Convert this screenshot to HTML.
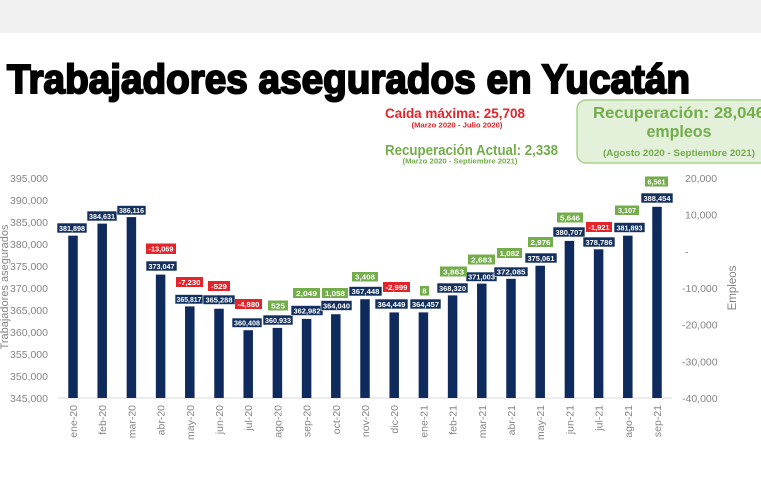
<!DOCTYPE html>
<html>
<head>
<meta charset="utf-8">
<style>
html,body{margin:0;padding:0;background:#fff;}
svg{display:block;}
text{font-family:"Liberation Sans",sans-serif;}
.ax{font-size:10.5px;fill:#858585;}
.bx{font-size:7.5px;font-weight:bold;fill:#fff;text-anchor:middle;}
</style>
</head>
<body>
<svg width="761" height="491" viewBox="0 0 761 491" xmlns="http://www.w3.org/2000/svg">
<rect x="0" y="0" width="761" height="491" fill="#fff"/>
<rect x="0" y="0" width="761" height="33" fill="#f0f0f0"/>

<!-- Title -->
<text x="7" y="93" font-size="41" font-weight="bold" fill="#000" stroke="#000" stroke-width="2" textLength="683" lengthAdjust="spacingAndGlyphs">Trabajadores asegurados en Yucatán</text>

<!-- annotations -->
<text x="385" y="118" font-size="14" font-weight="bold" fill="#e3242b" textLength="140" lengthAdjust="spacingAndGlyphs">Caída máxima:  25,708</text>
<text x="457" y="127.5" font-size="7" font-weight="bold" fill="#e3242b" text-anchor="middle" textLength="91" lengthAdjust="spacingAndGlyphs">(Marzo 2020 - Julio 2020)</text>
<text x="385" y="155" font-size="15" font-weight="bold" fill="#74ad4c" textLength="173" lengthAdjust="spacingAndGlyphs">Recuperación Actual: 2,338</text>
<text x="460" y="163.5" font-size="7" font-weight="bold" fill="#74ad4c" text-anchor="middle" textLength="115" lengthAdjust="spacingAndGlyphs">(Marzo 2020 - Septiembre 2021)</text>

<rect x="577" y="100" width="210" height="63" rx="9" fill="#e3f0da" stroke="#a9d18e" stroke-width="1.5"/>
<text x="593" y="118" font-size="16" font-weight="bold" fill="#74ad4c" textLength="172" lengthAdjust="spacingAndGlyphs">Recuperación: 28,046</text>
<text x="679" y="137" font-size="17" font-weight="bold" fill="#74ad4c" text-anchor="middle" textLength="65" lengthAdjust="spacingAndGlyphs">empleos</text>
<text x="679" y="156" font-size="9" font-weight="bold" fill="#74ad4c" text-anchor="middle" textLength="152" lengthAdjust="spacingAndGlyphs">(Agosto 2020 - Septiembre 2021)</text>

<!-- left axis labels -->
<g class="ax" text-anchor="end">
<text x="48" y="182">395,000</text>
<text x="48" y="204">390,000</text>
<text x="48" y="226">385,000</text>
<text x="48" y="248">380,000</text>
<text x="48" y="270">375,000</text>
<text x="48" y="292">370,000</text>
<text x="48" y="314">365,000</text>
<text x="48" y="336">360,000</text>
<text x="48" y="358">355,000</text>
<text x="48" y="380">350,000</text>
<text x="48" y="402">345,000</text>
</g>
<!-- right axis labels -->
<g class="ax">
<text x="685" y="182">20,000</text>
<text x="685" y="218.7">10,000</text>
<text x="685" y="255.3">-</text>
<text x="682" y="292">-10,000</text>
<text x="682" y="328.7">-20,000</text>
<text x="682" y="365.3">-30,000</text>
<text x="682" y="402">-40,000</text>
</g>
<text transform="translate(8,287) rotate(-90)" font-size="11" fill="#858585" text-anchor="middle">Trabajadores asegurados</text>
<text transform="translate(736,288) rotate(-90)" font-size="11.5" fill="#858585" text-anchor="middle">Empleos</text>

<!-- axis line -->
<line x1="58" y1="398" x2="672" y2="398" stroke="#d9d9d9" stroke-width="1"/>

<!-- bars -->
<g fill="#0f2a5d">
<rect x="68.25" y="235.65" width="9.5" height="162.35"/>
<rect x="97.45" y="223.62" width="9.5" height="174.38"/>
<rect x="126.65" y="217.09" width="9.5" height="180.91"/>
<rect x="155.85" y="274.59" width="9.5" height="123.41"/>
<rect x="185.05" y="306.41" width="9.5" height="91.59"/>
<rect x="214.25" y="308.73" width="9.5" height="89.27"/>
<rect x="243.45" y="330.2" width="9.5" height="67.8"/>
<rect x="272.65" y="327.89" width="9.5" height="70.11"/>
<rect x="301.85" y="318.88" width="9.5" height="79.12"/>
<rect x="331.05" y="314.22" width="9.5" height="83.78"/>
<rect x="360.25" y="299.23" width="9.5" height="98.77"/>
<rect x="389.45" y="312.42" width="9.5" height="85.58"/>
<rect x="418.65" y="312.39" width="9.5" height="85.61"/>
<rect x="447.85" y="295.39" width="9.5" height="102.61"/>
<rect x="477.05" y="283.59" width="9.5" height="114.41"/>
<rect x="506.25" y="278.83" width="9.5" height="119.17"/>
<rect x="535.45" y="265.73" width="9.5" height="132.27"/>
<rect x="564.65" y="240.89" width="9.5" height="157.11"/>
<rect x="593.85" y="249.34" width="9.5" height="148.66"/>
<rect x="623.05" y="235.67" width="9.5" height="162.33"/>
<rect x="652.25" y="206.8" width="9.5" height="191.2"/>
</g>

<!-- navy value boxes -->
<g>
<g fill="#13305f" stroke="#ffffff" stroke-width="0.6">
<rect x="57" y="223" width="30" height="10"/>
<rect x="87" y="211" width="30" height="10"/>
<rect x="117" y="205.5" width="29" height="9.5"/>
<rect x="146" y="261" width="31" height="10"/>
<rect x="175" y="294.5" width="28" height="9.5"/>
<rect x="203" y="295" width="32" height="9.5"/>
<rect x="232" y="318" width="30" height="9.5"/>
<rect x="263" y="315" width="30" height="10"/>
<rect x="291" y="305.5" width="32" height="10"/>
<rect x="321" y="300.5" width="31" height="10"/>
<rect x="349" y="286.5" width="33" height="9.5"/>
<rect x="375" y="299" width="33" height="10"/>
<rect x="410" y="299" width="31" height="10"/>
<rect x="437" y="283" width="31" height="10"/>
<rect x="466" y="272" width="31" height="9.5"/>
<rect x="494" y="267" width="34" height="9.5"/>
<rect x="525" y="253" width="32" height="10"/>
<rect x="553" y="227" width="32" height="10"/>
<rect x="583" y="237" width="32" height="10"/>
<rect x="614" y="222.5" width="31" height="10"/>
<rect x="641" y="193" width="32" height="10"/>
</g>
<g class="bx">
<text x="72" y="230.8" textLength="26" lengthAdjust="spacingAndGlyphs">381,898</text>
<text x="102" y="218.8" textLength="26" lengthAdjust="spacingAndGlyphs">384,631</text>
<text x="131.5" y="213" textLength="25" lengthAdjust="spacingAndGlyphs">386,116</text>
<text x="161.5" y="268.8" textLength="26" lengthAdjust="spacingAndGlyphs">373,047</text>
<text x="189" y="302" textLength="25" lengthAdjust="spacingAndGlyphs">365,817</text>
<text x="219" y="302.5" textLength="27" lengthAdjust="spacingAndGlyphs">365,288</text>
<text x="247" y="325.5" textLength="26" lengthAdjust="spacingAndGlyphs">360,408</text>
<text x="278" y="322.8" textLength="26" lengthAdjust="spacingAndGlyphs">360,933</text>
<text x="307" y="313.3" textLength="27" lengthAdjust="spacingAndGlyphs">362,982</text>
<text x="336.5" y="308.3" textLength="27" lengthAdjust="spacingAndGlyphs">364,040</text>
<text x="365.5" y="294" textLength="28" lengthAdjust="spacingAndGlyphs">367,448</text>
<text x="391.5" y="306.8" textLength="28" lengthAdjust="spacingAndGlyphs">364,449</text>
<text x="425.5" y="306.8" textLength="27" lengthAdjust="spacingAndGlyphs">364,457</text>
<text x="452.5" y="290.8" textLength="27" lengthAdjust="spacingAndGlyphs">368,320</text>
<text x="481.5" y="279.5" textLength="27" lengthAdjust="spacingAndGlyphs">371,003</text>
<text x="511" y="274.5" textLength="29" lengthAdjust="spacingAndGlyphs">372,085</text>
<text x="541" y="260.8" textLength="27" lengthAdjust="spacingAndGlyphs">375,061</text>
<text x="569" y="234.8" textLength="27" lengthAdjust="spacingAndGlyphs">380,707</text>
<text x="599" y="244.8" textLength="27" lengthAdjust="spacingAndGlyphs">378,786</text>
<text x="629.5" y="230.3" textLength="26" lengthAdjust="spacingAndGlyphs">381,893</text>
<text x="657" y="200.8" textLength="27" lengthAdjust="spacingAndGlyphs">388,454</text>
</g>
</g>

<!-- change boxes -->
<g>
<g fill="#e3242b">
<rect x="146" y="243.5" width="30" height="10.5"/>
<rect x="176" y="277" width="27" height="10"/>
<rect x="208" y="281" width="22" height="10"/>
<rect x="235" y="299" width="27" height="10"/>
<rect x="383" y="282" width="27" height="10"/>
<rect x="586" y="222" width="26" height="10"/>
</g>
<g fill="#74ad4c">
<rect x="268" y="300.5" width="20" height="10"/>
<rect x="293" y="288" width="27" height="10"/>
<rect x="322" y="288" width="26" height="10"/>
<rect x="352" y="272" width="26" height="9.5"/>
<rect x="420" y="286" width="9" height="9.5"/>
<rect x="440" y="266.5" width="27" height="10"/>
<rect x="468" y="254.5" width="27" height="10"/>
<rect x="497" y="248" width="25" height="10"/>
<rect x="528" y="237" width="25" height="10"/>
<rect x="557" y="212.5" width="26" height="10"/>
<rect x="615" y="205.5" width="24" height="9.5"/>
<rect x="645" y="176.5" width="23" height="10"/>
</g>
<g class="bx">
<text x="161" y="251.5" textLength="25" lengthAdjust="spacingAndGlyphs">-13,069</text>
<text x="189.5" y="284.8" textLength="22" lengthAdjust="spacingAndGlyphs">-7,230</text>
<text x="219" y="288.8" textLength="16" lengthAdjust="spacingAndGlyphs">-529</text>
<text x="248.5" y="306.8" textLength="22" lengthAdjust="spacingAndGlyphs">-4,880</text>
<text x="278" y="308.3" textLength="14" lengthAdjust="spacingAndGlyphs">525</text>
<text x="306.5" y="295.8" textLength="21" lengthAdjust="spacingAndGlyphs">2,049</text>
<text x="335" y="295.8" textLength="20" lengthAdjust="spacingAndGlyphs">1,058</text>
<text x="365" y="279.5" textLength="20" lengthAdjust="spacingAndGlyphs">3,408</text>
<text x="396.5" y="289.8" textLength="22" lengthAdjust="spacingAndGlyphs">-2,999</text>
<text x="424.5" y="293.5">8</text>
<text x="453.5" y="274.3" textLength="21" lengthAdjust="spacingAndGlyphs">3,863</text>
<text x="481.5" y="262.3" textLength="21" lengthAdjust="spacingAndGlyphs">2,683</text>
<text x="509.5" y="255.8" textLength="20" lengthAdjust="spacingAndGlyphs">1,082</text>
<text x="540.5" y="244.8" textLength="20" lengthAdjust="spacingAndGlyphs">2,976</text>
<text x="570" y="220.3" textLength="20" lengthAdjust="spacingAndGlyphs">5,646</text>
<text x="599" y="229.8" textLength="21" lengthAdjust="spacingAndGlyphs">-1,921</text>
<text x="627" y="213" textLength="18" lengthAdjust="spacingAndGlyphs">3,107</text>
<text x="656.5" y="184.3" textLength="18" lengthAdjust="spacingAndGlyphs">6,561</text>
</g>
</g>

<!-- x axis labels -->
<g class="ax" text-anchor="end" font-size="10.5">
<text transform="translate(77,405) rotate(-90)">ene-20</text>
<text transform="translate(106.2,405) rotate(-90)">feb-20</text>
<text transform="translate(135.4,405) rotate(-90)">mar-20</text>
<text transform="translate(164.6,405) rotate(-90)">abr-20</text>
<text transform="translate(193.8,405) rotate(-90)">may-20</text>
<text transform="translate(223,405) rotate(-90)">jun-20</text>
<text transform="translate(252.2,405) rotate(-90)">jul-20</text>
<text transform="translate(281.4,405) rotate(-90)">ago-20</text>
<text transform="translate(310.6,405) rotate(-90)">sep-20</text>
<text transform="translate(339.8,405) rotate(-90)">oct-20</text>
<text transform="translate(369,405) rotate(-90)">nov-20</text>
<text transform="translate(398.2,405) rotate(-90)">dic-20</text>
<text transform="translate(427.4,405) rotate(-90)">ene-21</text>
<text transform="translate(456.6,405) rotate(-90)">feb-21</text>
<text transform="translate(485.8,405) rotate(-90)">mar-21</text>
<text transform="translate(515,405) rotate(-90)">abr-21</text>
<text transform="translate(544.2,405) rotate(-90)">may-21</text>
<text transform="translate(573.4,405) rotate(-90)">jun-21</text>
<text transform="translate(602.6,405) rotate(-90)">jul-21</text>
<text transform="translate(631.8,405) rotate(-90)">ago-21</text>
<text transform="translate(661,405) rotate(-90)">sep-21</text>
</g>
</svg>
</body>
</html>
